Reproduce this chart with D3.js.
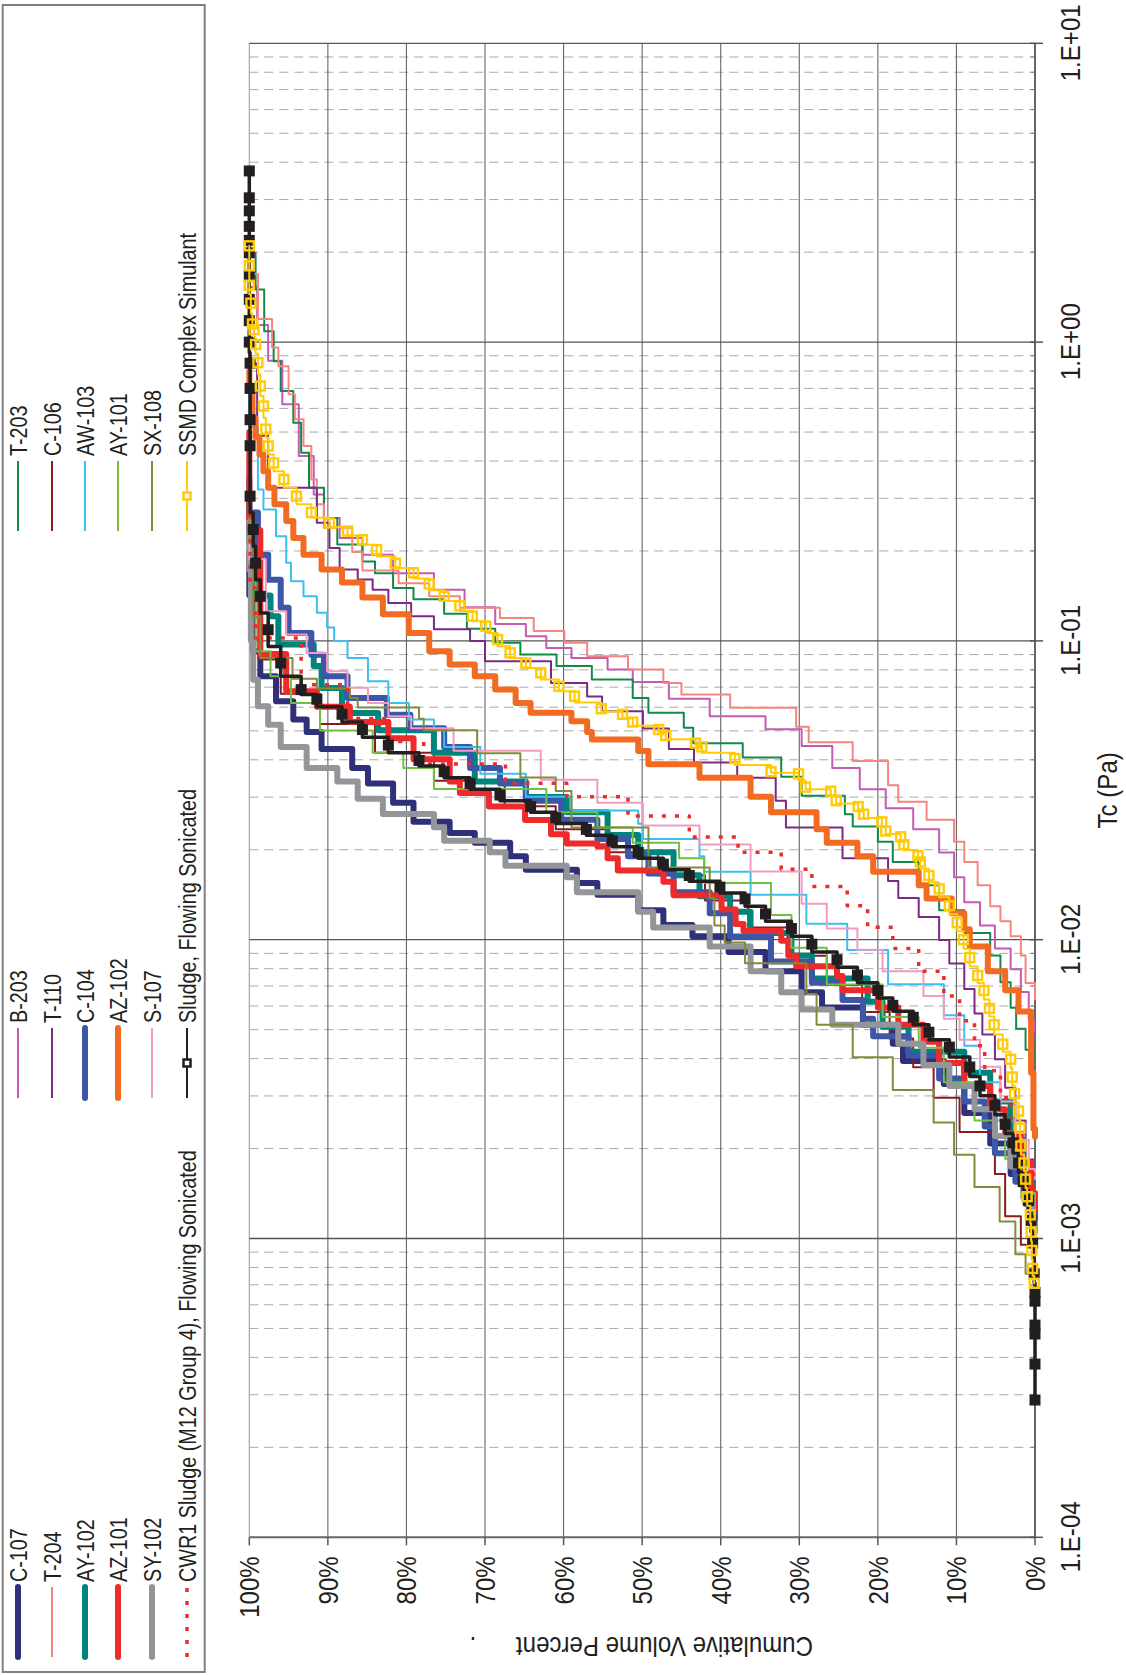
<!DOCTYPE html>
<html><head><meta charset="utf-8">
<script src="https://cdn.jsdelivr.net/npm/d3@7"></script>
<style>html,body{margin:0;padding:0;background:#fff;} svg{display:block;}</style>
</head><body>
<svg id="chart" width="1126" height="1675"></svg>
<script>
// ---------------- DATA (Tc in Pa, cumulative volume percent) ----------------
const xTickValues = [1e-4, 1e-3, 1e-2, 1e-1, 1, 10];
const xTickLabels = ["1.E-04", "1.E-03", "1.E-02", "1.E-01", "1.E+00", "1.E+01"];
const yTickValues = [0, 10, 20, 30, 40, 50, 60, 70, 80, 90, 100];
const yTickLabels = ["0%", "10%", "20%", "30%", "40%", "50%", "60%", "70%", "80%", "90%", "100%"];

const seriesNames = ["C-107", "B-203", "T-203", "T-204", "T-110", "C-106", "AY-102", "C-104", "AW-103",
  "AZ-101", "AZ-102", "AY-101", "SY-102", "S-107", "SX-108",
  "CWR1 Sludge (M12 Group 4), Flowing Sonicated", "Sludge, Flowing Sonicated", "SSMD Complex Simulant"];

const c107 = [[0.00117,0],[0.00146,1.2],[0.00185,3.1],[0.00234,5.7],[0.00296,9.0],[0.00365,11.6],[0.00423,16.8],[0.00475,18.1],[0.00568,21.9],[0.00619,27.1],[0.00718,29.7],[0.00857,34.3],[0.00966,39.0],[0.0109,43.6],[0.0115,47.3],[0.0137,50.5],[0.0146,55.7],[0.0164,58.3],[0.0179,64.8],[0.0202,66.8],[0.0221,71.3],[0.0234,74.5],[0.0263,79.1],[0.0314,81.7],[0.0354,84.9],[0.0398,86.9],[0.0475,90.8],[0.0518,92.7],[0.0574,94.4],[0.0687,96.6],[0.0843,98.6],[0.101,99.5],[0.2,100]];
const b203 = [[0.0049,0.1],[0.00603,0.8],[0.00741,1.8],[0.00857,3.1],[0.0102,5.1],[0.0122,7.0],[0.0146,9.0],[0.0179,10.3],[0.0214,12.2],[0.0256,15.5],[0.0296,19.0],[0.0344,22.3],[0.0410,25.8],[0.0482,29.7],[0.0531,34.3],[0.0589,41.4],[0.0697,46.6],[0.0762,51.2],[0.0843,54.4],[0.0912,59.0],[0.0984,62.2],[0.109,64.8],[0.119,68.7],[0.141,72.6],[0.156,76.5],[0.182,81.7],[0.207,85.6],[0.236,88.5],[0.282,90.5],[0.338,91.8],[0.511,93.7],[0.75,95.8],[1.0,97.6],[1.3,99],[1.8,100]];
const t203 = [[0.00398,0.2],[0.00461,1.2],[0.0055,2.4],[0.00638,3.1],[0.00813,4.4],[0.00966,5.7],[0.0115,9.0],[0.0137,12.2],[0.0169,14.8],[0.0196,18.1],[0.0231,20.0],[0.0248,23.2],[0.0279,24.2],[0.0329,29.7],[0.0375,32.3],[0.0442,37.2],[0.0468,43.5],[0.056,44.7],[0.0589,49.2],[0.0705,51.2],[0.0782,56.4],[0.0867,60.9],[0.0935,65.5],[0.104,68.7],[0.116,72.3],[0.131,75.2],[0.145,79.1],[0.156,81.7],[0.182,84.0],[0.187,85.6],[0.236,88.8],[0.282,90.5],[0.375,92.4],[0.484,93.4],[0.596,94.4],[0.789,96.0],[0.944,96.9],[1.253,98.1],[1.795,99.2],[2.2,100]];
const t204 = [[0.00631,0],[0.00813,1.2],[0.00966,1.8],[0.0109,3.1],[0.0122,4.4],[0.0137,5.7],[0.0169,7.3],[0.0196,9.0],[0.0231,10.3],[0.0275,13.8],[0.0305,17.4],[0.0355,18.7],[0.0442,23.2],[0.0475,28.8],[0.056,30.4],[0.0637,38.8],[0.0687,45.0],[0.0762,47.3],[0.0843,51.8],[0.0935,57.0],[0.104,59.9],[0.112,63.8],[0.127,68.1],[0.131,73.2],[0.152,77.1],[0.160,81.0],[0.185,85.6],[0.213,86.9],[0.269,90.5],[0.305,91.4],[0.394,92.1],[0.511,93.1],[0.596,94.2],[0.75,95.0],[0.92,96.3],[1.0,97.1],[1.43,98.9],[2.0,100]];
const t110 = [[0.00158,0.2],[0.00214,1.2],[0.00288,2.5],[0.00355,3.8],[0.00447,5.1],[0.00519,6.7],[0.00617,7.7],[0.00759,9.0],[0.00912,10.9],[0.0109,12.2],[0.013,14.8],[0.0146,17.4],[0.0169,18.7],[0.0208,24.5],[0.0271,31.7],[0.0314,33.0],[0.0386,37.9],[0.0398,43.4],[0.0475,46.6],[0.0546,49.9],[0.0619,55.1],[0.0687,57.0],[0.0762,61.6],[0.0959,70.0],[0.104,71.9],[0.115,76.5],[0.127,79.4],[0.141,82.3],[0.156,84.3],[0.165,86.2],[0.182,88.5],[0.23,89.8],[0.269,91.4],[0.394,97.6],[0.6,99.0],[1.2,100]];
const c106 = [[0.00089,0.1],[0.00102,1.8],[0.00138,3.8],[0.00196,5.1],[0.00263,9.6],[0.00333,12.9],[0.0042,15.5],[0.0052,18.5],[0.0063,22.0],[0.0079,26.5],[0.0099,31.5],[0.0122,36.5],[0.0150,42.0],[0.0180,48.0],[0.0214,54.5],[0.0256,61.0],[0.0305,67.5],[0.0380,76.5],[0.0470,84.0],[0.0590,91.0],[0.0750,96.0],[0.100,98.8],[0.2,100]];
const ay102 = [[0.00112,0],[0.0013,0.4],[0.00185,1.5],[0.00248,3.1],[0.00333,5.7],[0.00386,9.0],[0.00461,16.1],[0.00568,19.4],[0.00676,21.3],[0.00813,28.4],[0.00966,31.0],[0.0115,36.2],[0.0134,38.8],[0.0146,42.7],[0.0185,46.0],[0.0208,50.5],[0.0241,54.4],[0.0296,59.6],[0.0305,64.8],[0.0375,71.3],[0.0475,76.5],[0.0531,83.6],[0.0619,88.2],[0.0782,90.8],[0.0867,91.8],[0.109,96.3],[0.134,97.3],[0.15,99.3],[0.3,100]];
const c104 = [[0.00112,0],[0.00138,0.8],[0.00174,2.5],[0.00214,5.1],[0.00263,6.4],[0.00314,9.0],[0.00375,12.2],[0.00447,16.1],[0.00505,20.6],[0.00585,21.9],[0.00676,24.5],[0.00762,28.4],[0.00938,33.6],[0.0112,38.8],[0.0134,41.4],[0.0155,46.0],[0.0179,49.2],[0.0202,51.8],[0.0234,55.7],[0.0271,60.3],[0.0314,64.8],[0.0354,68.1],[0.0398,71.9],[0.049,75.2],[0.0531,79.5],[0.0603,82.5],[0.0687,87.5],[0.0843,90.5],[0.0959,92.1],[0.118,95.0],[0.141,96.0],[0.182,97.6],[0.207,98.9],[0.35,100]];
const aw103 = [[0.00138,0.1],[0.00155,0.8],[0.00214,2.5],[0.00288,4.4],[0.00386,7.0],[0.00505,9.0],[0.00619,11.6],[0.00813,18.7],[0.0105,23.9],[0.0122,29.1],[0.0164,36.2],[0.0174,42.1],[0.0208,42.7],[0.0227,49.9],[0.0263,50.5],[0.0279,59.0],[0.0324,64.8],[0.0398,70.6],[0.049,75.2],[0.0518,76.5],[0.0574,79.7],[0.067,82.3],[0.0802,84.9],[0.0959,87.5],[0.104,89.2],[0.118,90.1],[0.131,91.4],[0.152,93.1],[0.165,94.7],[0.202,95.3],[0.248,96.6],[0.305,98.2],[0.338,98.9],[0.8,100]];
const az101 = [[0.00126,0],[0.0016,0.5],[0.00202,1.8],[0.00248,3.8],[0.00296,5.7],[0.00354,9.0],[0.00423,12.2],[0.0049,14.2],[0.00551,17.4],[0.00638,20.0],[0.00718,24.5],[0.00796,25.2],[0.00834,30.4],[0.00938,31.4],[0.0105,32.3],[0.0109,37.1],[0.0117,38.1],[0.0136,39.9],[0.0146,46.0],[0.0167,47.3],[0.0174,53.1],[0.0202,54.4],[0.0209,55.7],[0.0211,59.6],[0.0241,61.6],[0.0263,64.9],[0.0296,69.5],[0.0324,73.2],[0.0354,74.5],[0.0455,79.1],[0.049,82.3],[0.0585,87.2],[0.0619,91.4],[0.0743,95.3],[0.11,98.6],[0.5,100]];
const az102 = [[0.00219,0],[0.00248,0.2],[0.00519,0.5],[0.00638,2.1],[0.00718,3.8],[0.00857,6.0],[0.0105,8.3],[0.0112,9.0],[0.0134,10.6],[0.0141,13.8],[0.0164,14.8],[0.0174,20.6],[0.0208,22.6],[0.0214,26.5],[0.0256,27.8],[0.0279,33.6],[0.0324,36.2],[0.0375,42.7],[0.0398,49.2],[0.0461,50.5],[0.0475,56.4],[0.0518,57.0],[0.056,59.0],[0.0589,64.2],[0.0653,66.1],[0.0724,68.7],[0.0802,71.3],[0.0867,74.5],[0.0984,77.1],[0.115,79.7],[0.131,83.0],[0.149,85.6],[0.165,88.2],[0.182,90.8],[0.207,93.1],[0.236,94.4],[0.269,95.3],[0.305,96.8],[0.347,97.6],[0.394,98.2],[0.449,98.7],[0.513,99.2],[0.6,99.6],[0.8,100]];
const ay101 = [[0.00126,0],[0.0016,1.2],[0.00214,3.8],[0.00288,7.7],[0.00386,11.6],[0.0049,14.8],[0.00619,19.4],[0.00809,26.5],[0.0109,31.0],[0.0134,33.6],[0.0179,42.1],[0.0196,45.3],[0.0227,51.2],[0.0248,55.7],[0.0288,62.2],[0.0354,76.5],[0.0398,80.4],[0.0448,84.3],[0.056,91.0],[0.0687,94.7],[0.0843,97.3],[0.101,99.2],[0.3,100]];
const sy102 = [[0.00105,0],[0.00122,0.4],[0.00155,1.5],[0.00196,3.1],[0.00248,5.1],[0.00296,7.7],[0.00354,10.9],[0.0041,14.2],[0.0049,17.4],[0.0055,25.8],[0.00619,29.7],[0.00718,32.3],[0.00857,36.2],[0.0105,41.4],[0.0115,48.6],[0.0134,50.5],[0.0155,58.3],[0.0169,59.6],[0.0185,67.4],[0.0208,69.4],[0.0221,75.2],[0.0256,76.5],[0.0271,83.0],[0.0324,86.2],[0.0354,88.8],[0.0398,92.7],[0.049,96.0],[0.056,97.6],[0.0653,98.9],[0.0843,99.5],[0.12,99.8],[0.25,100]];
const s107 = [[0.00158,0],[0.00185,0.8],[0.00248,2.5],[0.00333,4.4],[0.00423,7.0],[0.00505,9.6],[0.00585,11.6],[0.00718,14.2],[0.00857,19.4],[0.01,22.6],[0.0119,26.5],[0.0146,29.7],[0.0196,36.2],[0.0221,42.7],[0.0263,49.9],[0.0314,55.7],[0.0375,62.9],[0.049,74.0],[0.0531,79.4],[0.0589,82.3],[0.0653,84.9],[0.0743,87.5],[0.0843,90.1],[0.0984,92.7],[0.112,95.3],[0.141,97.9],[0.25,100]];
const sx108 = [[0.000741,0],[0.000785,1.2],[0.001,2.5],[0.0013,4.5],[0.0017,7.7],[0.00214,10.3],[0.00279,12.9],[0.00354,18.1],[0.00461,23.2],[0.00585,27.8],[0.00741,29.1],[0.00938,36.9],[0.0102,39.5],[0.0122,40.8],[0.0155,41.4],[0.0196,49.2],[0.0288,59.0],[0.0344,61.0],[0.0354,65.5],[0.0500,71.0],[0.0505,77.8],[0.0597,78.4],[0.0600,86.2],[0.0690,87.2],[0.0697,91.4],[0.080,94.5],[0.0959,98.6],[0.15,99.5],[0.3,100]];
const cwr1 = [[0.00146,0.2],[0.00195,1.5],[0.00263,3.1],[0.00333,4.4],[0.00398,6.4],[0.0049,7.7],[0.00585,9.6],[0.00718,11.6],[0.00857,14.8],[0.0102,18.1],[0.0119,21.3],[0.0142,23.9],[0.016,28.4],[0.0185,32.3],[0.0208,37.8],[0.0234,44.0],[0.0288,51.8],[0.0314,59.6],[0.0355,67.4],[0.0423,77.8],[0.0501,82.5],[0.0603,87.5],[0.0843,93.4],[0.124,99.2],[0.182,99.9],[0.3,100]];
const sludge = [[0.000288,0],[0.00038,0],[0.000479,0],[0.000513,0],[0.000617,0],[0.000661,0],[0.000762,0.1],[0.000966,0.3],[0.00115,0.5],[0.00134,0.8],[0.00155,1.5],[0.00179,2.1],[0.00209,2.8],[0.00241,3.8],[0.00279,5.1],[0.00324,7.0],[0.00375,8.3],[0.00437,10.9],[0.0049,13.5],[0.0055,15.5],[0.00603,18.1],[0.00676,20.0],[0.00762,22.6],[0.00857,25.2],[0.00966,28.4],[0.0109,31.0],[0.0122,34.3],[0.0137,36.9],[0.015,40.1],[0.0164,44.0],[0.0179,47.3],[0.0196,50.5],[0.0214,53.8],[0.0234,57.1],[0.0256,61.0],[0.0279,64.2],[0.0305,68.1],[0.0333,71.9],[0.0365,75.2],[0.0398,78.4],[0.0448,82.3],[0.0505,85.6],[0.0568,88.2],[0.0638,91.4],[0.0687,93.4],[0.0843,96.0],[0.109,97.6],[0.141,98.6],[0.182,99.2],[0.236,99.5],[0.305,99.9],[0.45,99.9],[0.55,99.9],[0.7,99.9],[0.85,99.9],[1.0,100],[1.18,100],[1.39,100],[1.67,100],[1.99,100],[2.19,100],[2.44,100],[2.75,100],[3.04,100],[3.74,100]];
const ssmd = [[0.000708,0.1],[0.000794,0.3],[0.000912,0.4],[0.00105,0.5],[0.0012,0.6],[0.00138,1.0],[0.00158,1.2],[0.00179,1.4],[0.00204,1.8],[0.00234,1.9],[0.00267,2.1],[0.00305,2.6],[0.00347,2.9],[0.00398,3.1],[0.00447,4.1],[0.00519,5.2],[0.00589,5.8],[0.00676,6.5],[0.00759,7.3],[0.00871,8.3],[0.01,9.1],[0.0114,9.9],[0.013,10.9],[0.0148,12.2],[0.0164,13.5],[0.0182,14.6],[0.0191,14.9],[0.0208,16.7],[0.0221,17.1],[0.0231,19.0],[0.0248,19.5],[0.0263,21.8],[0.0279,22.5],[0.0292,25.3],[0.0314,26.0],[0.0324,29.2],[0.0359,30.1],[0.0365,33.6],[0.0404,38.2],[0.0442,42.4],[0.0455,43.2],[0.0482,47.0],[0.0505,47.9],[0.0535,51.2],[0.0568,52.5],[0.0593,55.2],[0.0653,58.6],[0.0705,60.6],[0.0782,62.9],[0.0843,64.8],[0.0912,66.8],[0.101,68.4],[0.112,69.9],[0.121,71.6],[0.131,73.2],[0.141,75.2],[0.155,77.1],[0.169,79.1],[0.182,81.4],[0.202,83.8],[0.218,85.6],[0.233,87.5],[0.248,89.8],[0.269,92.1],[0.305,94.0],[0.347,95.6],[0.394,96.9],[0.449,97.6],[0.511,97.9],[0.611,98.2],[0.713,98.6],[0.853,98.9],[0.982,99.2],[1.10,99.4],[1.15,99.6],[1.35,99.8],[1.55,100],[1.8,100],[2.1,100]];

const seriesData = [c107, b203, t203, t204, t110, c106, ay102, c104, aw103, az101, az102, ay101, sy102, s107, sx108, cwr1, sludge, ssmd];

// ---------------- STYLES ----------------
const styles = [
  {color:"#2E3079", w:6},          // C-107
  {color:"#C45AB3", w:2},          // B-203
  {color:"#12884A", w:2},          // T-203
  {color:"#F5857E", w:2},          // T-204
  {color:"#7B2A83", w:2},          // T-110
  {color:"#8B1B1F", w:2},          // C-106
  {color:"#00857C", w:6},          // AY-102
  {color:"#3D56A6", w:6},          // C-104
  {color:"#3BBFEF", w:2},          // AW-103
  {color:"#EE2B2B", w:6},          // AZ-101
  {color:"#F26B22", w:6},          // AZ-102
  {color:"#72BF44", w:2},          // AY-101
  {color:"#939598", w:6},          // SY-102
  {color:"#F49AC2", w:2},          // S-107
  {color:"#858A3A", w:2},          // SX-108
  {color:"#EE2B2B", w:3.5, dash:"4,9"}, // CWR1
  {color:"#231F20", w:3.5, marker:"black"}, // Sludge
  {color:"#FFCB05", w:2, marker:"yellow"}   // SSMD
];

const FONT = "'Liberation Sans', Arial, Helvetica, sans-serif";
const SQ = 0.86;          // horizontal squeeze of glyphs seen in the reference
const TXT = "#231F20";

const W = 1675;           // unrotated frame width (page height)
const svg = d3.select("#chart");
const root = svg.append("g").attr("transform", `translate(0,${W}) rotate(-90)`);

const x = d3.scaleLog().domain([1e-4, 10]).range([137.7, 1631.7]);
const y = d3.scaleLinear().domain([0, 100]).range([1035, 249.3]);

// ---------------- GRID ----------------
const allTicks = x.ticks();
const isMajor = d => Math.abs(Math.log10(d) - Math.round(Math.log10(d))) < 1e-9;
const minorTicks = allTicks.filter(d => !isMajor(d));
const grid = root.append("g");
grid.selectAll("line.minor").data(minorTicks).join("line")
  .attr("x1", d => x(d)).attr("x2", d => x(d)).attr("y1", y(100)).attr("y2", y(0))
  .attr("stroke", "#a7a9ac").attr("stroke-width", 1).attr("stroke-dasharray", "9,6");
grid.selectAll("line.pct").data(yTickValues.filter(d => d > 0)).join("line")
  .attr("x1", x(1e-4)).attr("x2", x(10)).attr("y1", d => y(d)).attr("y2", d => y(d))
  .attr("stroke", d => d === 100 ? "#a0a0a0" : "#666").attr("stroke-width", 1.1);
grid.selectAll("line.major").data(xTickValues.slice(1)).join("line")
  .attr("x1", d => x(d)).attr("x2", d => x(d)).attr("y1", y(100)).attr("y2", y(0))
  .attr("stroke", "#555").attr("stroke-width", 1.3);

// ---------------- AXES ----------------
const xAxisG = root.append("g").attr("transform", `translate(0,${y(0)})`)
  .call(d3.axisBottom(x).tickValues(xTickValues).tickFormat((d, i) => xTickLabels[i]).tickSize(0));
xAxisG.select(".domain").remove();
xAxisG.selectAll("text").attr("y", 45).attr("dy", null)
  .attr("transform", `scale(${SQ},1)`).attr("font-family", FONT).attr("font-size", 28).attr("fill", TXT);

const yAxisG = root.append("g").attr("transform", `translate(${x(1e-4)},0)`)
  .call(d3.axisLeft(y).tickValues(yTickValues).tickFormat((d, i) => yTickLabels[i]).tickSize(0));
yAxisG.select(".domain").remove();
yAxisG.selectAll("text").attr("x", -19 / SQ).attr("dy", null).attr("y", 9.5)
  .attr("transform", `scale(${SQ},1)`).attr("font-family", FONT).attr("font-size", 28).attr("fill", TXT);

const axG = root.append("g");
axG.append("line").attr("x1", x(1e-4)).attr("x2", x(10)).attr("y1", y(0)).attr("y2", y(0))
  .attr("stroke", "#666").attr("stroke-width", 2);
axG.append("line").attr("x1", x(1e-4)).attr("x2", x(1e-4)).attr("y1", y(0)).attr("y2", y(100))
  .attr("stroke", "#666").attr("stroke-width", 2);
axG.selectAll("line.xmaj").data(xTickValues).join("line")
  .attr("x1", d => x(d)).attr("x2", d => x(d)).attr("y1", y(0) - 5).attr("y2", y(0) + 8)
  .attr("stroke", "#555").attr("stroke-width", 1.5);
axG.selectAll("line.xmin").data(minorTicks).join("line")
  .attr("x1", d => x(d)).attr("x2", d => x(d)).attr("y1", y(0) - 4).attr("y2", y(0))
  .attr("stroke", "#777").attr("stroke-width", 1);
axG.selectAll("line.ytk").data(yTickValues).join("line")
  .attr("x1", x(1e-4) - 8).attr("x2", x(1e-4)).attr("y1", d => y(d)).attr("y2", d => y(d))
  .attr("stroke", "#555").attr("stroke-width", 1.5);

function addText(parent, tx, ty, s, size, anchor, rot) {
  return parent.append("text")
    .attr("transform", `translate(${tx},${ty})${rot ? ` rotate(${rot})` : ""} scale(${SQ},1)`)
    .attr("font-family", FONT).attr("font-size", size).attr("fill", TXT)
    .attr("text-anchor", anchor || "start").text(s);
}
// axis titles
addText(root, (x(1e-4) + x(10)) / 2, 1117, "Tc (Pa)", 28, "middle");
addText(root, 38, 813, "Cumulative Volume Percent", 28, "start", -90);
addText(root, 38, 473, ".", 28, "middle", -90);

// ---------------- SERIES ----------------
const line = d3.line().x(d => x(d[0])).y(d => y(d[1])).curve(d3.curveStep);
const plotG = root.append("g");
seriesData.forEach((data, i) => {
  const st = styles[i];
  const pts = data.slice().sort((a, b) => a[0] - b[0]);
  plotG.append("path").datum(pts).attr("d", line)
    .attr("fill", "none").attr("stroke", st.color).attr("stroke-width", st.w)
    .attr("stroke-linejoin", "round").attr("stroke-linecap", st.dash ? "butt" : "round")
    .attr("stroke-dasharray", st.dash || null);
  if (st.marker === "black") {
    plotG.append("g").selectAll("rect").data(pts).join("rect")
      .attr("x", d => x(d[0]) - 4.5).attr("y", d => y(d[1]) - 4.5).attr("width", 9).attr("height", 9)
      .attr("fill", "#231F20").attr("stroke", "#231F20").attr("stroke-width", 2);
  } else if (st.marker === "yellow") {
    plotG.append("g").selectAll("rect").data(pts).join("rect")
      .attr("x", d => x(d[0]) - 4.5).attr("y", d => y(d[1]) - 4.5).attr("width", 9).attr("height", 9)
      .attr("fill", "none").attr("stroke", "#FFCB05").attr("stroke-width", 2.4);
  }
});

// ---------------- LEGEND ----------------
const leg = root.append("g");
leg.append("rect").attr("x", 3).attr("y", 2.7).attr("width", 1667).attr("height", 202)
  .attr("fill", "none").attr("stroke", "#808080").attr("stroke-width", 2);
const colLine = [[18, 88], [577, 647], [1144, 1214]];
const colText = [93, 652, 1219];
const rowY = [18, 52, 85, 118, 152, 187];
seriesNames.forEach((name, i) => {
  const c = i % 3, r = Math.floor(i / 3), st = styles[i];
  const yy = rowY[r];
  leg.append("line").attr("x1", colLine[c][0]).attr("x2", colLine[c][1]).attr("y1", yy).attr("y2", yy)
    .attr("stroke", st.color).attr("stroke-width", st.marker ? 2 : st.w)
    .attr("stroke-linecap", st.dash ? "butt" : (st.w > 3 && !st.marker ? "round" : "butt"))
    .attr("stroke-dasharray", st.dash || null);
  const mx = (colLine[c][0] + colLine[c][1]) / 2;
  if (st.marker === "black") {
    leg.append("rect").attr("x", mx - 3.5).attr("y", yy - 3.5).attr("width", 7).attr("height", 7)
      .attr("fill", "#fff").attr("stroke", "#231F20").attr("stroke-width", 2.5);
  } else if (st.marker === "yellow") {
    leg.append("rect").attr("x", mx - 3.5).attr("y", yy - 3.5).attr("width", 7).attr("height", 7)
      .attr("fill", "#fff").attr("stroke", "#FFCB05").attr("stroke-width", 2.5);
  }
  addText(leg, colText[c], yy + 9, name, 23, "start");
});
</script>
</body></html>
